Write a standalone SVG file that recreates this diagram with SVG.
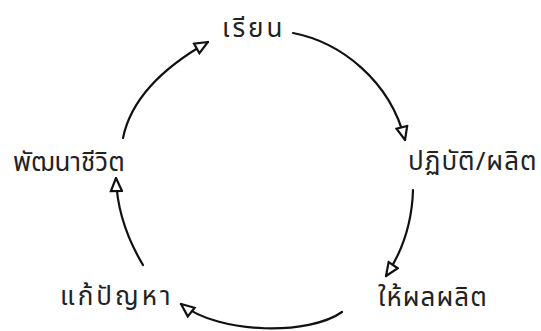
<svg xmlns="http://www.w3.org/2000/svg" width="541" height="331" viewBox="0 0 541 331">
<style>
.lbl{font-family:"Noto Sans","Noto Sans Thai","DejaVu Sans",sans-serif;font-size:26px;fill:#222}
.arc{fill:none;stroke:#111;stroke-width:2.2;stroke-linecap:round;marker-end:url(#ah)}
</style>
<defs>
<marker id="ah" viewBox="0 0 16 14" refX="15" refY="7" markerWidth="16" markerHeight="14" markerUnits="userSpaceOnUse" orient="auto">
<path d="M15,7 L2,1.5 L2,12.5 Z" fill="#fff" stroke="#111" stroke-width="2.2" stroke-linejoin="miter"/>
</marker>
</defs>
<rect width="541" height="331" fill="#fff"/>
<g id="connectors">
<path class="arc" d="M123,138 Q134,84 208,42"/>
<path class="arc" d="M293,33 C340,42 390,80 405,140"/>
<path class="arc" d="M413,190 C412,225 400,255 386,276"/>
<path class="arc" d="M342,312 C310,335 220,335 181,304"/>
<path class="arc" d="M143,265 C128,240 117,210 116,178"/>
</g>
<g id="learn"><text class="lbl" x="222" y="37" letter-spacing="3">เรียน</text></g>
<g id="practice"><text class="lbl" x="408" y="170" letter-spacing="1">ปฏิบัติ/ผลิต</text></g>
<g id="output"><text class="lbl" x="378" y="306" letter-spacing="1">ให้ผลผลิต</text></g>
<g id="solve"><text class="lbl" x="60" y="305" letter-spacing="3">แก้ปัญหา</text></g>
<g id="develop"><text class="lbl" x="13" y="171">พัฒนาชีวิต</text></g>
</svg>
